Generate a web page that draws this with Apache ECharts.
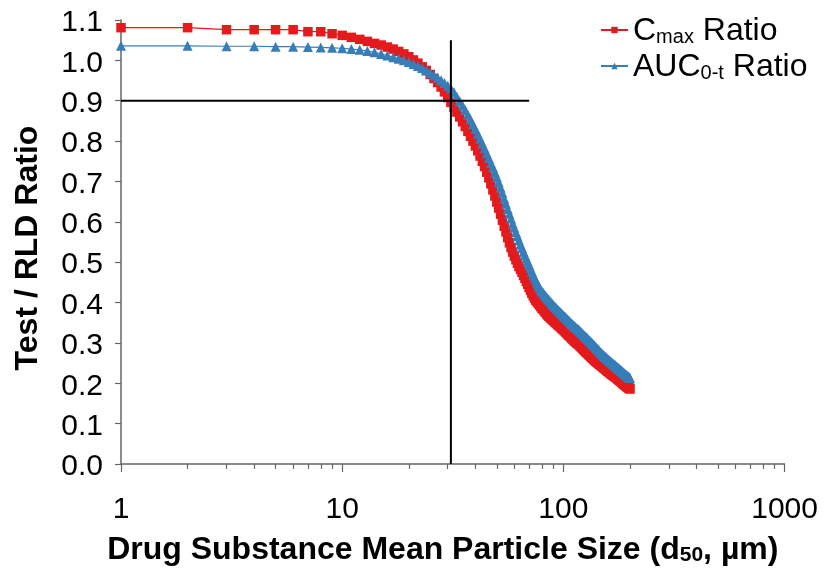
<!DOCTYPE html>
<html><head><meta charset="utf-8">
<script src="https://cdn.jsdelivr.net/npm/echarts@6/dist/echarts.min.js"></script>
<style>html,body{margin:0;padding:0;background:#fff}#c{width:831px;height:571px}</style>
</head><body><div id="c"></div>
<script>
// Drug substance mean particle size (µm)
const particleSize = [
1,2,3,4,5,6,7,8,9,10,11,12,13,14,15,16,17,18,19,20,
21,22,23,24,25,26,27,28,29,30,31,32,33,34,35,36,37,38,39,40,
41,42,43,44,45,46,47,48,49,50,51,52,53,54,55,56,57,58,59,60,
61,62,63,64,65,66,67,68,69,70,71,72,73,74,75,76,77,78,79,80,
81,82,83,84,85,86,87,88,89,90,91,92,93,94,95,96,97,98,99,100,
101,102,103,104,105,106,107,108,109,110,111,112,113,114,115,116,117,118,119,120,
121,122,123,124,125,126,127,128,129,130,131,132,133,134,135,136,137,138,139,140,
141,142,143,144,145,146,147,148,149,150,151,152,153,154,155,156,157,158,159,160,
161,162,163,164,165,166,167,168,169,170,171,172,173,174,175,176,177,178,179,180,
181,182,183,184,185,186,187,188,189,190,191,192,193,194,195,196,197,198,199,200
];
// Cmax Ratio (Test / RLD)
const cmaxRatio = [
1.081,1.081,1.076,1.076,1.076,1.076,1.071,1.071,1.066,1.062,
1.057,1.052,1.047,1.042,1.038,1.033,1.028,1.022,1.016,1.009,
1.001,0.993,0.984,0.975,0.965,0.955,0.945,0.934,0.922,0.908,
0.896,0.884,0.872,0.860,0.848,0.836,0.824,0.812,0.800,0.788,
0.776,0.763,0.750,0.737,0.723,0.709,0.694,0.679,0.664,0.649,
0.634,0.619,0.604,0.589,0.575,0.561,0.548,0.536,0.525,0.515,
0.506,0.497,0.489,0.482,0.475,0.467,0.460,0.452,0.445,0.437,
0.430,0.423,0.417,0.411,0.406,0.402,0.398,0.394,0.390,0.386,
0.383,0.379,0.376,0.372,0.369,0.366,0.363,0.361,0.358,0.356,
0.353,0.351,0.349,0.346,0.344,0.342,0.340,0.337,0.335,0.333,
0.331,0.328,0.326,0.324,0.321,0.319,0.317,0.315,0.312,0.310,
0.308,0.306,0.304,0.302,0.300,0.299,0.297,0.295,0.293,0.291,
0.289,0.287,0.285,0.283,0.281,0.279,0.277,0.276,0.274,0.272,
0.270,0.269,0.267,0.265,0.263,0.262,0.260,0.258,0.257,0.255,
0.254,0.252,0.251,0.250,0.248,0.247,0.246,0.245,0.243,0.242,
0.241,0.239,0.238,0.237,0.235,0.234,0.233,0.231,0.230,0.229,
0.228,0.227,0.226,0.224,0.223,0.222,0.221,0.220,0.219,0.218,
0.217,0.216,0.215,0.214,0.213,0.211,0.210,0.209,0.208,0.207,
0.206,0.205,0.204,0.203,0.202,0.200,0.199,0.198,0.197,0.196,
0.195,0.194,0.193,0.192,0.191,0.190,0.189,0.188,0.187,0.186
];
// AUC0-t Ratio (Test / RLD)
const aucRatio = [
1.036,1.036,1.035,1.035,1.034,1.034,1.033,1.032,1.031,1.030,
1.028,1.026,1.023,1.020,1.016,1.012,1.008,1.004,1.000,0.996,
0.991,0.986,0.981,0.975,0.969,0.963,0.957,0.951,0.944,0.937,
0.930,0.921,0.910,0.899,0.888,0.877,0.865,0.854,0.842,0.830,
0.818,0.806,0.794,0.782,0.770,0.758,0.746,0.735,0.723,0.711,
0.698,0.685,0.672,0.658,0.645,0.632,0.620,0.608,0.596,0.585,
0.574,0.564,0.554,0.544,0.535,0.526,0.517,0.509,0.501,0.493,
0.485,0.477,0.469,0.462,0.455,0.448,0.442,0.437,0.432,0.428,
0.424,0.420,0.417,0.413,0.410,0.407,0.403,0.400,0.397,0.394,
0.391,0.389,0.386,0.383,0.381,0.378,0.376,0.373,0.371,0.368,
0.366,0.364,0.361,0.359,0.357,0.355,0.353,0.350,0.348,0.346,
0.344,0.342,0.340,0.338,0.336,0.335,0.333,0.331,0.329,0.327,
0.325,0.323,0.321,0.319,0.317,0.315,0.314,0.312,0.310,0.308,
0.306,0.304,0.303,0.301,0.299,0.297,0.295,0.294,0.292,0.290,
0.288,0.286,0.285,0.283,0.281,0.279,0.277,0.276,0.274,0.272,
0.271,0.269,0.268,0.266,0.265,0.264,0.262,0.261,0.259,0.258,
0.257,0.256,0.254,0.253,0.252,0.251,0.249,0.248,0.247,0.246,
0.245,0.244,0.242,0.241,0.240,0.239,0.238,0.237,0.235,0.234,
0.233,0.232,0.231,0.230,0.229,0.227,0.226,0.225,0.224,0.223,
0.222,0.221,0.220,0.219,0.218,0.217,0.216,0.215,0.214,0.213
];
// Reference lines
const verticalRef = [[31, 0], [31, 1.05]];
const horizontalRef = [[1, 0.9], [70, 0.9]];
// Axis ticks
const xMinorTicks = [2,3,4,5,6,7,8,9,20,30,40,50,60,70,80,90,200,300,400,500,600,700,800,900];
const yMin = 0, yMax = 1.1, yStep = 0.1;

const FONT = '"Liberation Sans", Arial, sans-serif';
const AXIS_COLOR = '#666';

const chart = echarts.init(document.getElementById('c'), null, {renderer: 'canvas'});
chart.setOption({
  animation: false,
  backgroundColor: '#fff',
  textStyle: {fontFamily: FONT},
  grid: {left: 121, right: 46.4, top: 20, bottom: 105.5, containLabel: false},
  legend: {
    orient: 'vertical', left: 595, top: 10, itemWidth: 27, itemHeight: 8, itemGap: 4,
    selectedMode: false,
    data: ['Cmax Ratio', 'AUC0-t Ratio'],
    formatter: function (name) {
      return name === 'Cmax Ratio' ? '{m|C}{s|max}{m| Ratio}' : '{m|AUC}{s|0-t}{m| Ratio}';
    },
    textStyle: {
      color: '#000', fontFamily: FONT, padding: [10, 0, 0, 0],
      rich: {
        m: {fontSize: 32, fontFamily: FONT, color: '#000', lineHeight: 24, verticalAlign: 'bottom'},
        s: {fontSize: 20, fontFamily: FONT, color: '#000', lineHeight: 18, verticalAlign: 'bottom'}
      }
    }
  },
  xAxis: [{
    type: 'log', logBase: 10, min: 1, max: 1000,
    name: '{b|Drug Substance Mean Particle Size (d}{s|50}{b|, µm)}',
    nameLocation: 'middle', nameGap: 70,
    nameTextStyle: {
      padding: [0, 20, 0, 0],
      rich: {
        b: {fontSize: 32, fontWeight: 'bold', fontFamily: FONT, color: '#000', lineHeight: 32, verticalAlign: 'bottom'},
        s: {fontSize: 21, fontWeight: 'bold', fontFamily: FONT, color: '#000', lineHeight: 24, verticalAlign: 'bottom'}
      }
    },
    axisLine: {show: true, onZero: false, lineStyle: {color: AXIS_COLOR, width: 1.5}},
    axisTick: {show: true, inside: false, length: 8, lineStyle: {color: AXIS_COLOR, width: 1.2}},
    axisLabel: {fontSize: 30, color: '#000', fontFamily: FONT, margin: 31, formatter: v => String(v)},
    splitLine: {show: false},
    minorTick: {show: false}
  }, {
    type: 'log', logBase: 10, min: 1, max: 1000, position: 'bottom', gridIndex: 0,
    axisLine: {show: false},
    axisTick: {show: true, inside: false, length: 5, customValues: xMinorTicks, lineStyle: {color: AXIS_COLOR, width: 1.2}},
    axisLabel: {show: false},
    splitLine: {show: false}
  }],
  yAxis: {
    type: 'value', min: yMin, max: yMax, interval: yStep,
    name: 'Test / RLD Ratio', nameLocation: 'middle', nameGap: 77, nameRotate: 90,
    nameTextStyle: {fontSize: 32, fontWeight: 'bold', color: '#000', fontFamily: FONT, padding: [0, 12, 0, 0]},
    axisLine: {show: true, lineStyle: {color: AXIS_COLOR, width: 1.5}},
    axisTick: {show: true, inside: false, length: 6, lineStyle: {color: AXIS_COLOR, width: 1.2}},
    axisLabel: {fontSize: 30, color: '#000', fontFamily: FONT, margin: 18, verticalAlign: 'top', lineHeight: 6, formatter: v => v.toFixed(1)},
    splitLine: {show: false}
  },
  series: [{
    name: 'Cmax Ratio', type: 'line', xAxisIndex: 0,
    data: particleSize.map((x, i) => [x, cmaxRatio[i]]),
    symbol: 'rect', symbolSize: 9.5, showAllSymbol: true,
    itemStyle: {color: '#e41a1c'},
    lineStyle: {color: '#e41a1c', width: 1.2},
    z: 3
  }, {
    name: 'AUC0-t Ratio', type: 'line', xAxisIndex: 0,
    data: particleSize.map((x, i) => [x, aucRatio[i]]),
    symbol: 'triangle', symbolSize: 10, showAllSymbol: true,
    itemStyle: {color: '#377eb8'},
    lineStyle: {color: '#377eb8', width: 1.2},
    z: 4
  }, {
    name: 'vref', type: 'line', xAxisIndex: 0, data: verticalRef, symbol: 'none', silent: true,
    lineStyle: {color: '#000', width: 2}, z: 5
  }, {
    name: 'href', type: 'line', xAxisIndex: 0, data: horizontalRef, symbol: 'none', silent: true,
    lineStyle: {color: '#000', width: 2}, z: 5
  }]
});
</script></body></html>
